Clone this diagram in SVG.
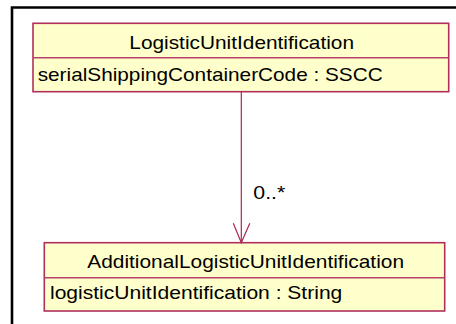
<svg xmlns="http://www.w3.org/2000/svg" width="456" height="324" viewBox="0 0 456 324">
  <style>
    .box { fill: #ffffcc; stroke: #b0305c; stroke-width: 1.6; }
    .div { stroke: #b8406a; stroke-width: 1.4; }
    .frame { stroke: #000000; stroke-width: 2.6; fill: none; }
    .conn { stroke: #a82858; stroke-width: 1.2; fill: none; }
    text { font-family: "Liberation Sans", Arial, sans-serif; font-size: 18.5px; fill: #000000; }
  </style>
  <rect x="0" y="0" width="456" height="324" fill="#ffffff"/>
  <g id="frame">
    <path class="frame" d="M12,324 V7.5 H456"/>
  </g>
  <g id="LogisticUnitIdentification">
    <rect class="box" x="33" y="23.3" width="415.7" height="68.4"/>
    <line class="div" x1="33" y1="57.7" x2="448.7" y2="57.7"/>
    <text x="129.3" y="48.5" textLength="224.7" lengthAdjust="spacingAndGlyphs">LogisticUnitIdentification</text>
    <text x="37.7" y="81" textLength="345" lengthAdjust="spacingAndGlyphs">serialShippingContainerCode : SSCC</text>
  </g>
  <g id="AdditionalLogisticUnitIdentification">
    <rect class="box" x="44.3" y="242.7" width="400.4" height="68.3"/>
    <line class="div" x1="44.3" y1="277.7" x2="444.7" y2="277.7"/>
    <text x="87.3" y="268" textLength="316.7" lengthAdjust="spacingAndGlyphs">AdditionalLogisticUnitIdentification</text>
    <text x="50" y="299" textLength="292.3" lengthAdjust="spacingAndGlyphs">logisticUnitIdentification : String</text>
  </g>
  <g id="connectors">
    <line class="conn" x1="241.3" y1="91.7" x2="241.3" y2="242.7"/>
    <polyline class="conn" points="233.3,223.3 241.3,242.7 249.8,223.3"/>
    <text x="253.3" y="199.3" textLength="32" lengthAdjust="spacingAndGlyphs">0..*</text>
  </g>
</svg>
